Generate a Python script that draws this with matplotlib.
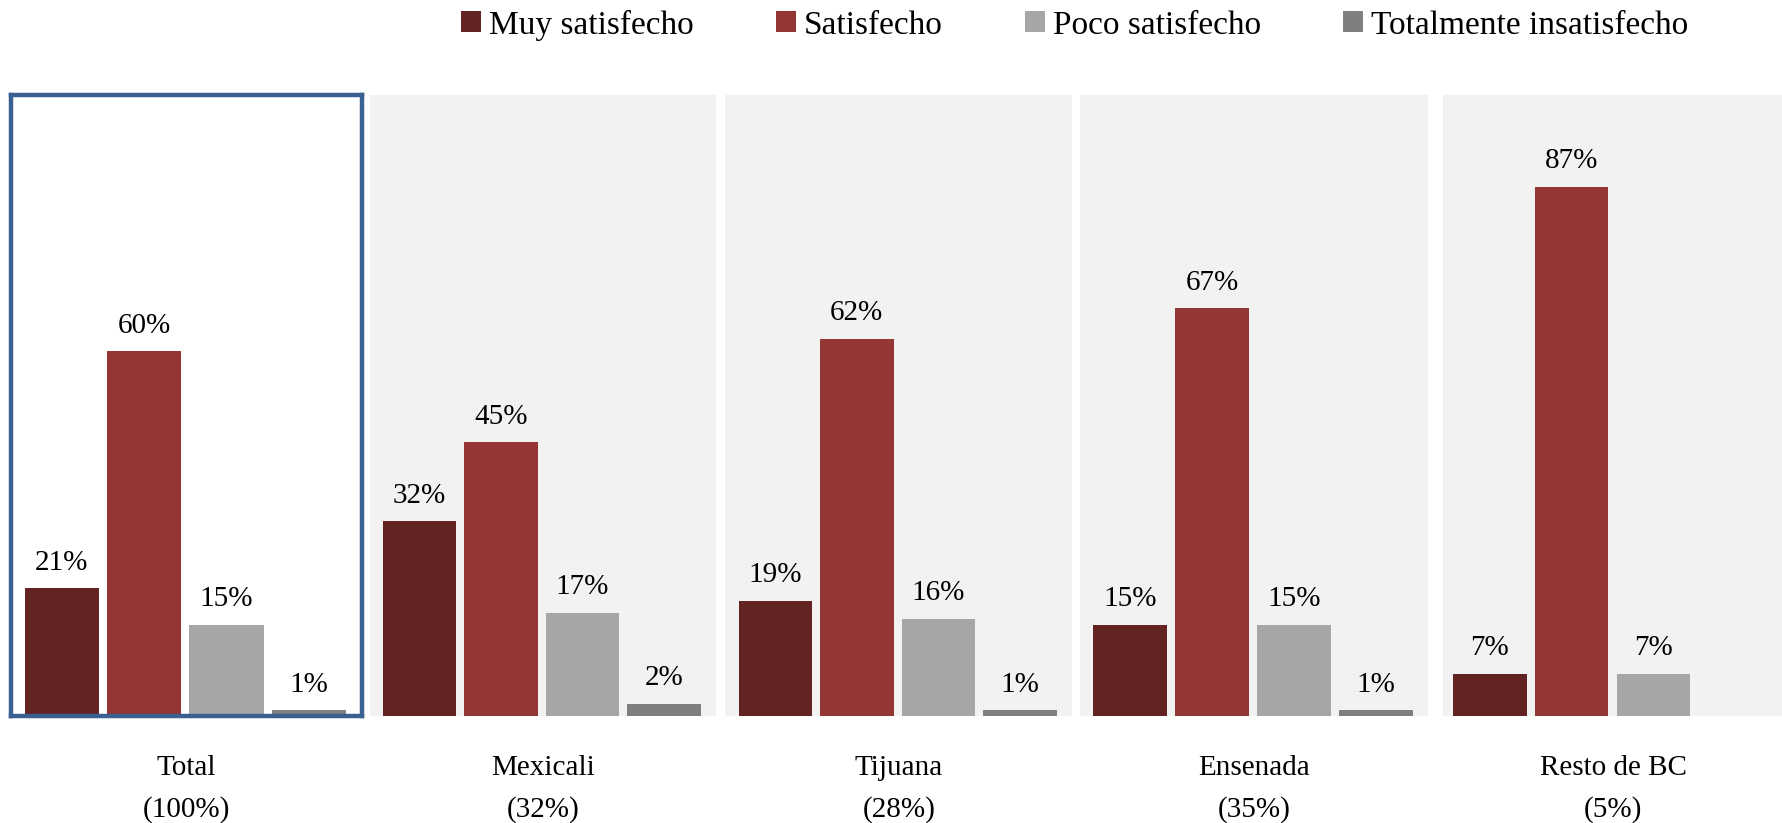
import matplotlib
matplotlib.use("Agg")
import matplotlib.pyplot as plt
from matplotlib.patches import Patch

plt.rcParams['font.family'] = ['Liberation Serif', 'DejaVu Serif']

series = ['Muy satisfecho', 'Satisfecho', 'Poco satisfecho', 'Totalmente insatisfecho']
colors = ['#632323', '#943634', '#A6A6A6', '#7F7F7F']

regions = ['Total\n(100%)', 'Mexicali\n(32%)', 'Tijuana\n(28%)', 'Ensenada\n(35%)', 'Resto de BC\n(5%)']
total = [21, 60, 15, 1]
mexicali = [32, 45, 17, 2]
tijuana = [19, 62, 16, 1]
ensenada = [15, 67, 15, 1]
resto = [7, 87, 7]
values = [total, mexicali, tijuana, ensenada, resto]

# panel left/right edges in the (1568 wide) reference
panel_x = [(10, 318), (325, 630), (638, 943), (950, 1256), (1269, 1568)]
W, H = 1568.0, 724.0
base_y, top_y = 630.0, 84.0

fig = plt.figure(figsize=(17.83, 8.23), dpi=100)

for i, (x0, x1) in enumerate(panel_x):
    ax = fig.add_axes([x0 / W, 1 - base_y / H, (x1 - x0) / W, (base_y - top_y) / H])
    vals = values[i]
    xs = list(range(len(vals)))
    bars = ax.bar(xs, vals, width=0.9, color=colors[:len(vals)], zorder=2)
    for b, v in zip(bars, vals):
        ax.annotate(f'{v}%', (b.get_x() + b.get_width() / 2, v), xytext=(0, 9),
                    textcoords='offset points', ha='center', va='bottom', fontsize=21)
    if i == 4:
        ax.set_xlim(-0.57, 3.58)
    else:
        ax.set_xlim(-0.61, 3.64)
    ax.set_ylim(0, 102)
    ax.set_xticks([])
    ax.set_yticks([])
    ax.text(0.5, -0.063, regions[i], transform=ax.transAxes, ha='center', va='top',
            fontsize=21, linespacing=1.7)
    if i == 0:
        ax.set_facecolor('white')
        for s in ax.spines.values():
            s.set_color('#3A6091')
            s.set_linewidth(3.2)
            s.set_zorder(3)
    else:
        ax.set_facecolor('#F2F2F2')
        for s in ax.spines.values():
            s.set_visible(False)

handles = [Patch(facecolor=c, edgecolor='none') for c in colors]
fig.legend(handles, series, loc='center', bbox_to_anchor=(945 / W, 1 - 22 / H), ncol=4,
           frameon=False, fontsize=24, handlelength=0.6, handleheight=0.6,
           handletextpad=0.25, columnspacing=2.45)

fig.savefig('out.png', dpi=100)
